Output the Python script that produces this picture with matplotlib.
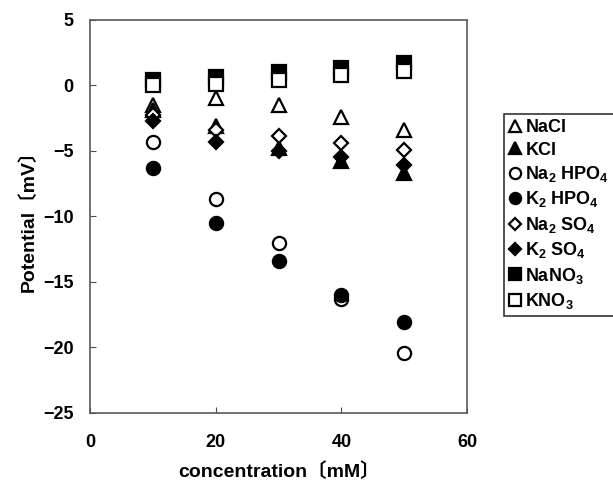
"""Surface potential vs. salt concentration, one marker series per salt."""

import matplotlib

matplotlib.use("Agg")
import matplotlib.pyplot as plt

plt.rcParams.update(
    {
        "font.family": ["Liberation Sans", "Noto Sans CJK JP"],
        "font.weight": "bold",
        "mathtext.fontset": "custom",
        "mathtext.rm": "Liberation Sans:bold",
        "mathtext.it": "Liberation Sans:bold",
        "mathtext.bf": "Liberation Sans:bold",
        "mathtext.default": "rm",
        "axes.unicode_minus": True,
    }
)

# concentration (mM)
conc = [10, 20, 30, 40, 50]

# potential (mV) per salt
nacl = [-1.5, -1.0, -1.5, -2.4, -3.4]
kcl = [-1.9, -3.1, -4.8, -5.8, -6.7]
na2hpo4 = [-4.3, -8.7, -12.0, -16.3, -20.4]
k2hpo4 = [-6.3, -10.5, -13.4, -16.0, -18.1]
na2so4 = [-2.3, -3.4, -3.9, -4.4, -4.9]
k2so4 = [-2.7, -4.3, -5.0, -5.5, -6.1]
nano3 = [0.4, 0.6, 1.0, 1.3, 1.7]
kno3 = [0.0, 0.1, 0.4, 0.8, 1.1]

SERIES = [
    (nacl, "^", False, "NaCl"),
    (kcl, "^", True, "KCl"),
    (na2hpo4, "o", False, r"Na$_2$ HPO$_4$"),
    (k2hpo4, "o", True, r"K$_2$ HPO$_4$"),
    (na2so4, "D", False, r"Na$_2$ SO$_4$"),
    (k2so4, "D", True, r"K$_2$ SO$_4$"),
    (nano3, "s", True, r"NaNO$_3$"),
    (kno3, "s", False, r"KNO$_3$"),
]

fig = plt.figure(figsize=(6.13, 4.84), dpi=100)
ax = fig.add_axes([0.147, 0.147, 0.615, 0.812])

for values, marker, filled, label in SERIES:
    size = 7.5 if marker == "D" else 9.5
    ax.plot(
        conc,
        values,
        linestyle="none",
        marker=marker,
        markersize=size,
        markerfacecolor="black" if filled else "white",
        markeredgecolor="black",
        markeredgewidth=1.6,
        label=label,
    )

ax.set_xlim(0, 60)
ax.set_ylim(-25, 5)
ax.set_xticks([0, 20, 40, 60])
ax.set_yticks([5, 0, -5, -10, -15, -20, -25])
ax.tick_params(direction="in", length=4, labelsize=13, colors="0.3",
               labelcolor="black")
ax.tick_params(axis="x", pad=15)
ax.tick_params(axis="y", pad=12)
for spine in ax.spines.values():
    spine.set_edgecolor("0.35")
    spine.set_linewidth(1.2)

ax.set_xlabel("concentration〔mM〕", fontsize=14, fontweight="bold", labelpad=8)
ax.set_ylabel("Potential〔mV〕", fontsize=14, fontweight="bold", labelpad=4)

leg = fig.legend(
    loc="upper left",
    bbox_to_anchor=(0.823, 0.765),
    frameon=True,
    fancybox=False,
    edgecolor="black",
    fontsize=13,
    handlelength=0.55,
    handletextpad=0.3,
    labelspacing=0.3,
    borderpad=0.3,
    borderaxespad=0,
    markerscale=0.85,
)
leg.get_frame().set_linewidth(1.2)

fig.savefig("out.png", dpi=100)
